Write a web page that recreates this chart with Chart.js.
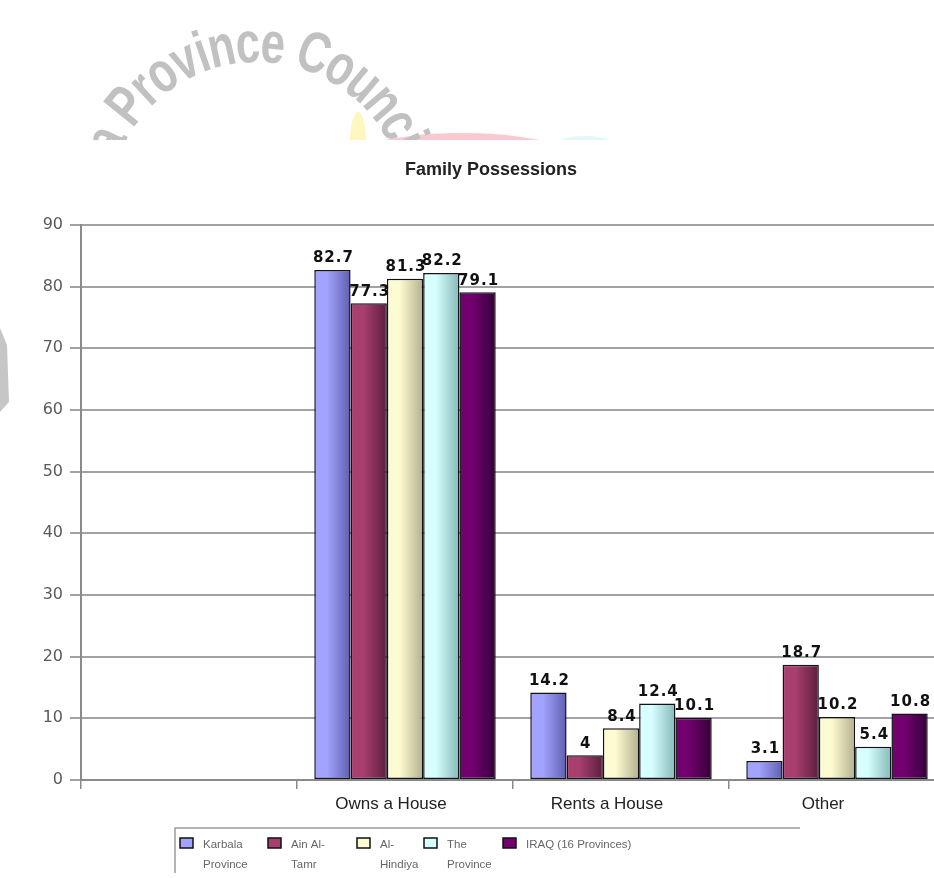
<!DOCTYPE html>
<html>
<head>
<meta charset="utf-8">
<title>Family Possessions</title>
<script src="https://cdn.jsdelivr.net/npm/chart.js@4/dist/chart.umd.min.js"></script>
<style>
  html, body { margin: 0; padding: 0; background: #fff; overflow: hidden; }
  #wrap { position: relative; width: 934px; height: 878px; overflow: hidden; }
</style>
</head>
<body>
<div id="wrap"><canvas id="possessions"></canvas></div>
<script>
// values (first category is empty in the original)
const chartTitle = 'Family Possessions';
const categories = ['', 'Owns a House', 'Rents a House', 'Other'];
const karbala     = [null, 82.7, 14.2, 3.1];
const ainAlTamr   = [null, 77.3, 4, 18.7];
const alHindiya   = [null, 81.3, 8.4, 10.2];
const theProvince = [null, 82.2, 12.4, 5.4];
const iraq        = [null, 79.1, 10.1, 10.8];
const seriesNames = [['Karbala', 'Province'], ['Ain Al-', 'Tamr'], ['Al-', 'Hindiya'], ['The', 'Province'], ['IRAQ (16 Provinces)']];
const yMax = 90;
const yStep = 10;

// light -> dark, the bars are shaded like cylinders
const palette = [
    ['#a2a2ff', '#5f5fb0'],
    ['#a8406f', '#5c1d3c'],
    ['#fdfbd2', '#b3b08e'],
    ['#d6ffff', '#86b8b8'],
    ['#73006f', '#36003a'],
];
const catPct = 0.84;
const FONT = '"Liberation Sans", Arial, sans-serif';

function barFill(c) {
    const chart = c.chart;
    const cols = palette[c.datasetIndex];
    const x = chart.scales.x;
    if (!x || !chart.chartArea || c.type !== 'data') return cols[0];
    const catW = x.width / categories.length;
    const barW = catW * catPct / palette.length;
    const left = x.getPixelForValue(c.dataIndex) - catW * catPct / 2 + c.datasetIndex * barW;
    const g = chart.ctx.createLinearGradient(left, 0, left + barW, 0);
    g.addColorStop(0, cols[0]);
    g.addColorStop(0.35, cols[0]);
    g.addColorStop(1, cols[1]);
    return g;
}

// letters advance by `step` of their width but are drawn a bit wider
function arcText(ctx, text, cx, cy, r, startDeg, step, draw) {
    let a = startDeg * Math.PI / 180;
    for (const ch of text) {
        const w = ctx.measureText(ch).width * step;
        const mid = a + (w / 2) / r;
        ctx.save();
        ctx.translate(cx + r * Math.sin(mid), cy - r * Math.cos(mid));
        ctx.rotate(mid);
        ctx.scale(draw, 1);
        ctx.fillText(ch, 0, 0);
        ctx.restore();
        a += w / r;
    }
}

// page watermark behind the chart (cut off at the chart's white box)
const watermark = {
    id: 'watermark',
    beforeDraw(chart) {
        const ctx = chart.ctx;
        ctx.save();
        ctx.fillStyle = '#fff';
        ctx.fillRect(0, 0, chart.width, chart.height);
        ctx.beginPath();
        ctx.rect(0, 0, 934, 140);
        ctx.clip();
        ctx.fillStyle = 'rgba(242,120,135,0.40)';
        ctx.beginPath(); ctx.ellipse(462, 178, 145, 45, 0, 0, Math.PI * 2); ctx.fill();
        ctx.fillStyle = 'rgba(255,238,110,0.45)';
        ctx.beginPath(); ctx.ellipse(358, 142, 8, 30, 0, 0, Math.PI * 2); ctx.fill();
        ctx.fillStyle = 'rgba(200,240,245,0.5)';
        ctx.beginPath(); ctx.ellipse(585, 150, 35, 14, 0, 0, Math.PI * 2); ctx.fill();
        ctx.fillStyle = '#c1c1c1';
        ctx.font = 'bold 58px ' + FONT;
        ctx.textAlign = 'center';
        ctx.textBaseline = 'alphabetic';
        arcText(ctx, 'Karbala Province Council', 257, 210, 148, -118.5, 0.7, 0.75);
        ctx.restore();
        // sliver of the watermark left of the chart box
        ctx.save();
        ctx.fillStyle = '#c6c6c6';
        ctx.beginPath();
        ctx.moveTo(0, 328); ctx.lineTo(7, 345); ctx.lineTo(9, 402); ctx.lineTo(0, 412);
        ctx.closePath(); ctx.fill();
        ctx.restore();
    }
};

const valueLabels = {
    id: 'valueLabels',
    afterDatasetsDraw(chart) {
        const ctx = chart.ctx;
        ctx.save();
        ctx.font = 'bold 15px "DejaVu Sans", sans-serif';
        ctx.letterSpacing = '1px';
        ctx.fillStyle = '#111';
        ctx.textAlign = 'center';
        ctx.textBaseline = 'bottom';
        chart.data.datasets.forEach((ds, i) => {
            chart.getDatasetMeta(i).data.forEach((bar, j) => {
                if (ds.data[j] == null) return;
                ctx.fillText(String(ds.data[j]), bar.x + 1, bar.y - 4);
            });
        });
        ctx.restore();
    }
};

// title and the two-line legend of the original
const titleAndLegend = {
    id: 'titleAndLegend',
    afterDraw(chart) {
        const ctx = chart.ctx;
        ctx.save();
        ctx.fillStyle = '#222';
        ctx.font = 'bold 18px ' + FONT;
        ctx.textAlign = 'center';
        ctx.textBaseline = 'middle';
        ctx.fillText(chartTitle, 491, 170);

        ctx.strokeStyle = '#9a9a9a';
        ctx.lineWidth = 1.5;
        ctx.beginPath();
        ctx.moveTo(175, 873); ctx.lineTo(175, 828); ctx.lineTo(800, 828);
        ctx.stroke();

        const itemX = [180, 268, 357, 424, 503];
        ctx.font = '11.5px ' + FONT;
        ctx.textAlign = 'left';
        ctx.textBaseline = 'middle';
        chart.data.datasets.forEach((ds, i) => {
            const x0 = itemX[i];
            ctx.fillStyle = palette[i][0];
            ctx.fillRect(x0, 838, 13, 10);
            ctx.strokeStyle = '#111';
            ctx.lineWidth = 1.5;
            ctx.strokeRect(x0, 838, 13, 10);
            ctx.fillStyle = '#666';
            seriesNames[i].forEach((line, k) => {
                ctx.fillText(line, x0 + 23, 845 + k * 20);
            });
        });
        ctx.restore();
    }
};

const canvas = document.getElementById('possessions');
canvas.style.width = '960px';
canvas.style.height = '878px';

new Chart(canvas, {
    type: 'bar',
    data: {
        labels: categories,
        datasets: [karbala, ainAlTamr, alHindiya, theProvince, iraq].map((vals, i) => ({
            label: seriesNames[i].join(' '),
            data: vals,
            backgroundColor: barFill,
            borderColor: '#121218',
            borderWidth: 1.5,
            borderSkipped: false,
            categoryPercentage: catPct,
            barPercentage: 1.0,
        })),
    },
    options: {
        responsive: false,
        animation: false,
        events: [],
        layout: { padding: { left: 0, top: 225, right: 15, bottom: 58 } },
        plugins: {
            legend: { display: false },
            title: { display: false },
            tooltip: { enabled: false },
        },
        scales: {
            x: {
                grid: { drawOnChartArea: false, drawTicks: true, tickLength: 9, color: '#8a8a8a', lineWidth: 1.5 },
                border: { display: true, color: '#8a8a8a', width: 2 },
                ticks: { color: '#222', font: { family: FONT, size: 17 }, padding: 5, labelOffset: -14, maxRotation: 0, autoSkip: false },
                afterFit(scale) { scale.height = 40; },
            },
            y: {
                min: 0,
                max: yMax,
                ticks: { stepSize: yStep, color: '#5a5a5a', font: { family: '"DejaVu Sans", sans-serif', size: 16 }, padding: 7 },
                grid: { color: '#a2a2a2', lineWidth: 2, tickLength: 11 },
                border: { display: true, color: '#8a8a8a', width: 2 },
                afterFit(scale) { scale.width = 81; },
            },
        },
    },
    plugins: [watermark, valueLabels, titleAndLegend],
});
</script>
</body>
</html>
